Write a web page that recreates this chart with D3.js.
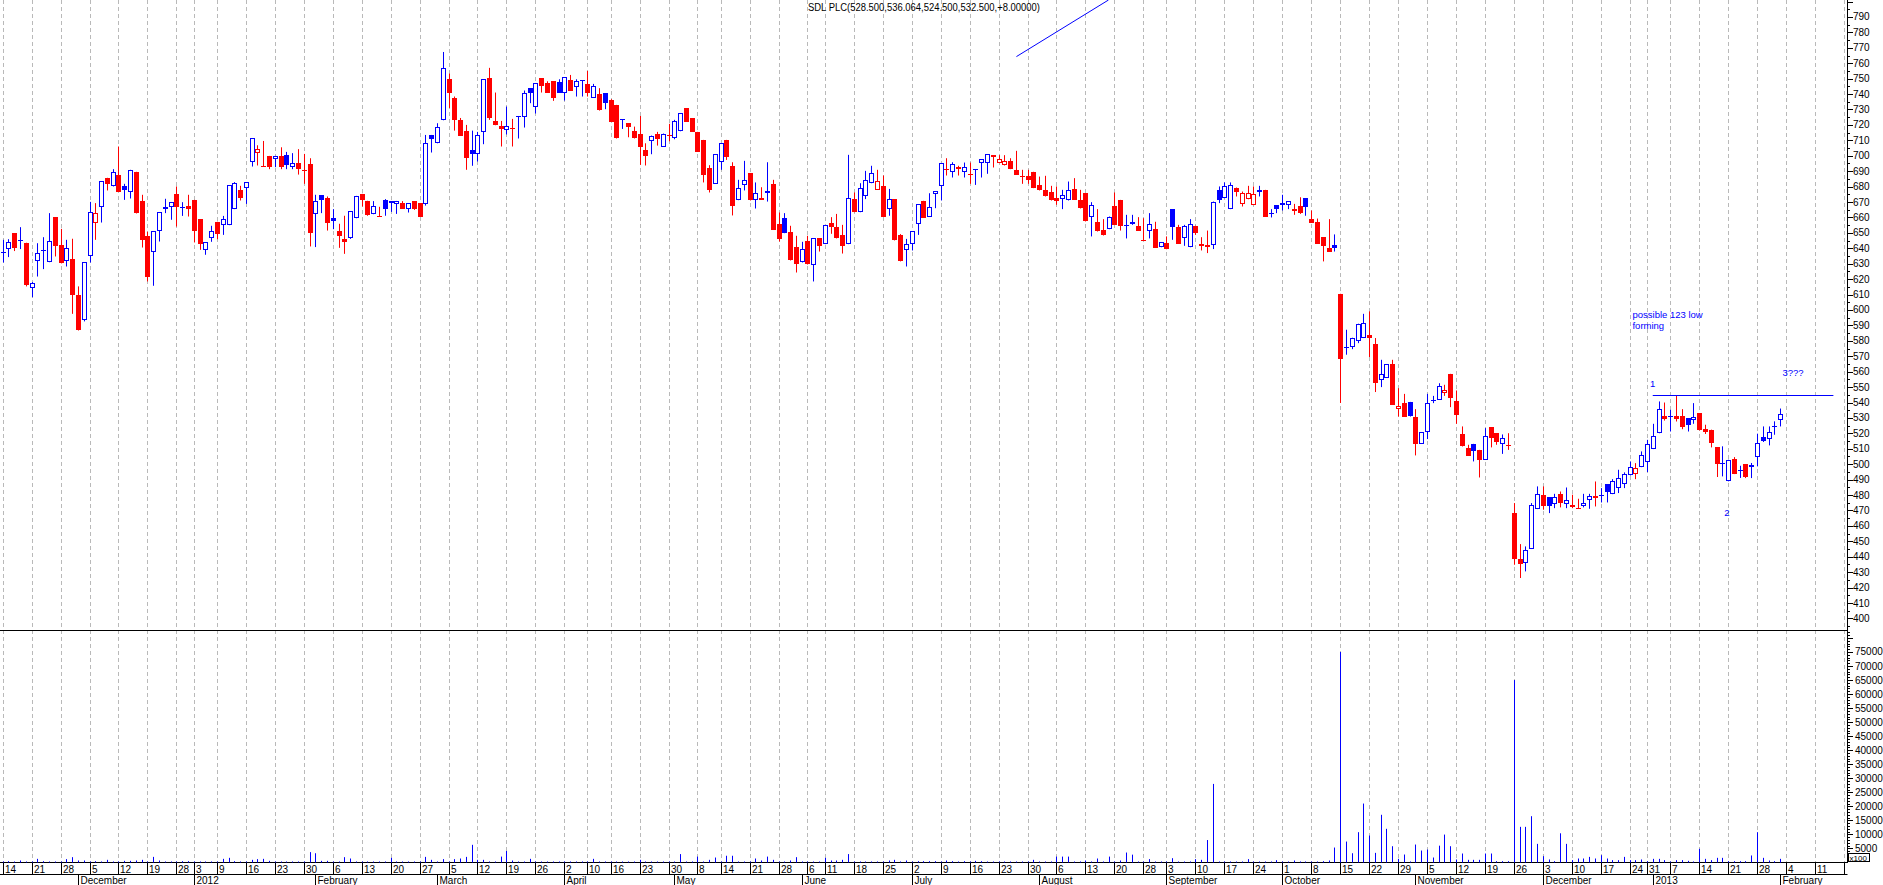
<!DOCTYPE html>
<html><head><meta charset="utf-8">
<script src="https://cdn.jsdelivr.net/npm/d3@7"></script>
<style>html,body{margin:0;padding:0;background:#fff;overflow:hidden}text{font-family:"Liberation Sans",Arial,sans-serif}</style>
</head><body><svg id="c" width="1883" height="885"></svg>
<script>
// ---------- DATA ----------
const openP = [
637.7,639.5,649.8,645.2,643.6,614.2,631.9,638.7,631.0,660.2,
642.3,631.5,633.2,609.8,593.2,635.3,656.7,667.1,685.7,680.1,
687.6,680.5,676.2,689.6,670.8,648.1,637.9,651.5,665.4,666.7,
675.1,666.7,667.5,671.4,658.9,638.6,646.4,657.2,655.0,655.0,
665.4,677.9,678.8,695.8,702.1,693.4,699.9,697.8,699.9,700.4,
692.6,695.2,690.9,694.5,662.3,674.4,672.7,659.5,651.1,645.9,
646.6,659.5,675.3,670.8,662.1,661.0,671.4,669.3,668.6,669.5,
665.4,670.6,669.3,668.4,713.5,708.1,723.0,749.6,737.5,723.3,
716.3,703.8,701.0,715.3,750.5,722.6,719.4,716.6,718.0,725.4,
725.4,743.8,731.3,750.3,747.0,748.3,747.9,740.5,749.2,744.4,
748.6,746.6,737.7,740.1,740.5,736.0,733.0,723.6,721.1,716.1,
714.0,703.8,709.6,714.2,706.0,713.5,711.8,715.9,730.8,724.3,
715.5,710.3,692.2,682.0,695.8,710.3,693.4,671.2,680.9,688.7,
671.2,672.5,675.7,681.8,655.9,659.5,650.7,640.7,630.8,644.8,
629.3,646.6,642.7,656.3,653.7,648.5,642.7,671.9,663.4,674.0,
682.2,677.9,680.1,665.4,671.9,648.7,638.6,642.7,655.9,670.8,
660.6,675.1,680.1,691.5,689.3,692.6,689.3,688.0,691.2,695.6,
695.6,700.4,695.2,693.7,696.7,690.9,687.0,687.0,689.6,681.1,
677.9,676.2,672.7,671.9,671.0,678.3,671.4,675.7,660.2,657.2,
652.0,652.4,667.5,671.4,655.0,657.2,654.6,645.6,651.5,652.6,
640.7,643.3,665.4,653.7,646.4,640.7,654.6,641.2,641.0,642.0,
677.9,672.5,665.4,679.4,668.6,671.8,668.0,677.9,677.9,663.0,
668.0,669.5,668.0,665.4,667.5,672.5,659.1,657.2,647.2,640.1,
642.0,610.5,575.9,575.7,579.6,581.8,583.9,578.1,554.8,555.9,
565.1,535.7,539.8,540.4,530.5,513.2,520.8,541.6,541.7,546.1,
558.6,541.3,519.7,510.6,513.2,509.3,502.9,524.0,520.1,513.2,
512.5,468.3,438.5,435.9,445.0,470.9,480.2,478.7,474.1,480.8,
474.1,472.0,471.6,472.6,476.5,479.5,479.7,487.1,480.6,484.5,
487.1,492.7,493.8,498.1,501.3,509.8,520.1,531.4,531.3,531.4,
531.4,529.9,528.4,533.2,522.8,522.4,510.9,500.6,488.9,503.4,
495.9,500.1,498.2,504.6,517.6,516.3,524.3,528.5];

const highP = [
645.5,645.9,649.8,653.7,643.6,618.1,643.3,647.2,662.8,660.2,
652.6,645.5,646.2,615.3,631.0,670.1,669.3,683.5,685.7,691.3,
706.0,681.8,690.9,689.6,674.7,650.7,651.1,663.4,672.1,669.9,
680.1,669.9,674.7,671.4,658.9,644.0,654.6,657.2,661.0,680.9,
682.9,680.5,682.9,711.4,706.8,709.6,699.9,699.9,705.5,702.5,
701.7,704.3,701.2,698.4,674.7,674.4,673.6,665.4,655.9,661.1,
664.1,674.0,675.3,670.8,670.6,666.9,671.9,670.6,670.7,670.6,
669.3,670.6,669.3,713.5,713.5,721.1,767.3,753.3,738.4,724.5,
720.0,716.3,715.5,749.6,757.0,741.0,722.6,731.9,723.9,725.8,
742.3,743.8,747.0,750.3,748.3,748.3,749.6,750.9,752.4,749.6,
749.0,755.0,746.6,743.8,740.5,736.7,733.0,723.8,721.1,718.9,
725.8,708.1,713.1,715.5,714.4,720.7,723.3,727.6,730.8,724.3,
715.5,710.3,693.9,701.0,708.1,710.3,695.8,684.4,696.7,688.7,
682.7,679.6,695.8,684.4,663.2,662.8,654.6,648.1,644.2,648.1,
646.6,646.6,655.0,660.2,662.3,655.2,700.6,676.2,682.2,690.2,
693.5,690.9,687.2,678.5,671.9,649.2,646.1,650.9,668.6,670.8,
675.7,677.0,695.2,698.4,695.8,693.5,695.6,695.6,691.4,697.6,
701.0,700.4,700.4,700.4,698.4,703.2,690.9,690.9,689.6,686.5,
687.0,680.5,680.1,677.9,683.3,685.5,677.9,675.7,669.9,665.4,
658.9,660.6,676.2,671.4,661.7,661.7,660.2,659.5,662.8,657.2,
644.0,647.7,665.4,655.2,655.2,658.9,654.6,647.2,651.5,670.3,
680.1,682.7,682.7,679.4,676.8,680.5,680.1,680.5,677.9,665.4,
668.0,674.7,670.6,668.8,673.1,672.5,664.5,659.3,647.2,658.9,
649.0,610.5,587.2,582.0,591.1,597.5,599.1,581.8,567.7,564.9,
567.7,549.3,545.6,540.4,535.7,520.8,545.6,544.3,552.5,551.5,
558.6,547.8,524.5,512.6,513.2,509.3,523.4,524.0,520.1,519.3,
520.1,474.8,448.2,446.7,474.8,485.6,485.6,478.7,480.8,482.3,
484.9,480.2,477.6,480.8,480.8,488.8,484.5,487.1,490.3,496.4,
494.7,501.8,500.7,508.3,515.8,526.2,540.7,540.0,535.3,544.3,
535.7,529.9,539.6,533.2,525.6,522.4,510.9,511.6,502.9,504.6,
499.0,500.1,500.8,519.8,524.5,524.5,527.8,536.1];

const lowP = [
630.8,634.3,638.2,639.5,615.3,608.3,621.7,626.5,631.0,634.7,
630.2,628.2,597.5,586.7,592.6,630.8,645.5,656.7,677.5,680.1,
676.8,671.4,672.3,662.6,640.5,618.5,615.7,644.4,662.8,658.5,
654.1,661.0,660.6,643.8,639.0,635.8,644.2,645.9,648.7,655.0,
665.4,671.0,668.8,693.0,693.7,693.2,691.3,692.6,691.3,691.3,
691.3,687.8,681.8,641.2,640.8,662.8,651.5,652.4,640.3,636.4,
646.1,659.5,667.1,661.1,662.1,660.8,661.1,663.6,662.3,665.8,
663.2,664.9,660.6,667.7,702.1,708.1,723.0,731.0,716.3,713.1,
690.9,693.5,696.3,707.5,723.3,719.8,706.0,713.8,706.0,711.2,
718.3,734.1,727.4,741.0,741.0,735.6,741.0,735.8,742.3,738.4,
738.4,738.4,737.7,729.3,730.2,722.2,711.2,717.4,712.0,711.2,
694.1,693.7,701.0,706.6,706.0,709.4,710.7,715.9,722.2,715.7,
702.7,682.7,676.2,682.0,690.9,697.3,661.3,671.2,677.5,671.0,
665.8,671.6,670.3,652.0,644.4,649.8,632.1,624.3,630.8,629.5,
618.5,637.9,642.7,649.4,646.4,636.6,642.7,663.4,663.4,671.9,
682.2,677.9,660.6,661.1,645.1,631.5,628.2,638.6,648.7,659.9,
660.6,666.0,671.0,687.2,685.9,687.2,685.9,681.8,681.1,685.9,
688.3,692.4,695.2,693.7,691.3,687.8,681.8,681.8,679.0,677.5,
673.6,671.0,668.2,665.4,671.0,671.4,665.8,657.4,647.7,650.9,
648.3,652.4,655.2,651.5,646.4,655.2,651.5,645.4,646.4,640.5,
640.7,639.4,645.5,643.1,641.6,640.7,648.7,638.6,636.9,639.5,
669.3,672.5,665.4,673.6,667.1,671.8,668.0,673.6,660.6,660.0,
662.8,664.5,665.4,661.7,662.3,661.1,656.7,643.1,631.5,637.9,
637.9,539.7,571.0,574.6,578.5,581.8,569.5,546.8,550.0,555.9,
538.5,530.9,530.9,530.9,505.7,513.2,516.3,539.6,541.7,544.3,
537.0,526.2,511.5,505.4,501.8,491.4,502.9,510.9,512.6,506.7,
509.3,434.8,426.2,430.5,445.0,470.9,470.5,468.3,471.5,472.0,
471.5,471.5,471.4,472.0,471.1,472.6,475.2,475.2,480.6,481.3,
484.5,492.7,490.3,498.1,494.9,509.8,520.1,528.3,521.2,527.7,
522.7,521.2,526.2,521.9,519.6,510.9,491.7,492.1,488.9,493.6,
491.1,491.0,491.0,498.6,514.4,512.2,519.1,524.5];

const closeP = [
636.9,643.8,639.9,645.4,615.9,617.4,636.9,638.9,644.6,641.8,
630.2,640.1,609.4,586.7,631.0,663.4,662.8,683.5,681.8,689.3,
676.8,677.5,690.9,662.6,645.5,621.1,651.1,663.4,666.9,669.9,
666.5,666.9,665.8,651.5,642.5,644.0,651.1,649.4,658.9,680.9,
682.2,672.3,682.9,711.4,704.5,693.2,693.0,699.9,693.0,694.3,
695.6,691.3,690.0,649.8,670.6,671.0,656.7,658.0,648.1,644.2,
664.1,674.0,671.0,661.7,667.5,660.8,665.8,670.4,670.7,665.8,
669.3,665.8,660.6,708.1,710.7,718.9,756.7,741.0,723.0,713.1,
698.8,701.0,713.3,749.6,724.8,719.8,717.2,719.4,717.8,725.8,
740.5,741.0,747.0,745.5,741.0,737.7,741.0,750.9,742.3,748.7,
748.9,741.0,745.5,729.7,734.5,722.2,711.2,723.8,718.9,711.8,
706.0,700.1,713.1,710.7,714.4,713.3,722.6,727.6,722.2,715.7,
702.7,687.6,677.9,701.0,708.1,699.5,667.7,679.2,684.2,671.0,
675.7,671.6,677.0,652.0,645.9,649.8,632.1,629.7,639.4,629.5,
646.6,641.2,655.0,653.5,646.4,641.8,672.5,663.4,679.0,684.0,
688.7,683.9,660.6,671.9,645.1,631.5,642.7,650.9,668.6,659.9,
666.5,677.0,695.2,691.3,694.5,691.7,692.6,687.8,691.4,697.6,
701.0,699.5,698.0,696.5,691.3,687.8,686.1,684.4,679.0,677.5,
673.6,671.0,670.8,674.7,677.9,671.4,666.2,657.4,668.0,650.9,
648.3,660.6,655.2,654.6,655.3,655.9,651.5,645.4,655.9,640.5,
644.0,639.4,653.5,643.1,654.6,655.9,650.2,642.5,642.3,670.3,
671.4,680.7,681.0,676.2,675.9,675.6,675.3,676.8,660.6,662.1,
665.8,668.0,670.6,663.9,663.2,667.1,656.7,643.1,641.2,637.9,
640.5,568.4,576.1,582.0,591.1,591.4,581.8,552.6,558.5,564.9,
538.5,537.6,530.9,531.2,513.0,520.8,539.6,541.8,550.8,548.2,
542.8,532.0,511.5,505.4,508.3,502.9,518.0,516.7,514.7,516.7,
512.3,438.7,435.5,444.5,473.7,480.6,472.6,473.0,478.7,474.8,
476.9,473.7,471.4,474.8,479.5,477.8,479.9,481.7,488.8,491.0,
493.6,498.1,497.5,506.1,513.2,518.4,535.7,529.2,531.5,529.2,
524.0,525.2,530.6,521.9,520.6,513.7,500.1,500.8,502.9,493.6,
496.1,491.7,499.7,513.7,515.2,520.6,524.5,532.5];

const volume = [
300,470,250,710,300,250,1300,470,360,250,
300,1200,1900,710,710,300,470,300,950,250,
300,590,590,710,950,300,2000,710,250,300,
250,470,470,250,300,360,360,250,1300,1660,
470,300,250,950,1200,1300,590,300,360,360,
360,360,300,3700,3300,590,590,300,250,1900,
1420,360,250,360,360,360,360,1660,360,360,
360,360,250,2000,950,360,1200,360,1200,1420,
2000,6300,950,950,360,250,2100,4100,710,360,
250,1300,360,250,360,250,240,250,360,360,
360,360,1300,360,360,360,360,360,250,300,
950,360,250,300,250,300,250,3000,250,300,
2100,250,950,1770,300,2400,2400,250,300,250,
1420,710,2100,950,250,300,710,1900,250,300,
250,300,1660,710,710,950,3000,360,360,360,
360,360,360,710,950,250,710,250,470,470,
470,470,250,710,470,250,470,250,590,470,
250,250,250,360,250,250,250,250,950,250,
250,360,2100,2100,2100,250,360,710,250,1420,
250,2100,250,710,3550,2800,360,250,1200,250,
250,250,1540,250,250,250,1200,950,8000,28000,
250,360,360,250,250,1200,360,250,250,250,
830,250,250,710,360,360,360,360,470,710,
5330,75000,7460,3300,10800,21000,9600,3430,17000,12000,
5800,1300,2840,360,6400,4260,4620,1780,6000,9950,
5800,1070,3200,950,950,950,3200,3200,470,470,
470,65000,12700,12700,16500,6640,2250,1070,470,10400,
6640,830,1420,1420,2000,1420,2600,1420,830,830,
2000,830,830,1070,470,1300,1300,830,360,830,
830,590,360,4860,1300,830,1660,1660,470,470,
470,470,2500,10800,1660,710,470,1300];

const calendarStart = [2011, 10, 14];   // 14 Nov 2011
const calendarDays = 319;               // trading days on the axis
const holidays = ["2011-12-26","2011-12-27","2012-01-02","2012-04-06","2012-04-09",
  "2012-05-07","2012-06-04","2012-06-05","2012-08-27","2012-12-25","2012-12-26","2013-01-01"];
const monthNames = ["January","February","March","April","May","June","July",
  "August","September","October","November","December"];
const priceLabels = d3.range(400, 791, 10);
const volumeLabels = d3.range(5000, 75001, 5000);
const titleText = "SDL PLC(528.500,536.064,524.500,532.500,+8.00000)";
const notes = [
  {text: "possible 123 low", i: 281.4, p: 594.5, anchor: "start"},
  {text: "forming", i: 281.4, p: 587.4, anchor: "start"},
  {text: "1", i: 284.9, p: 550.1, anchor: "middle"},
  {text: "3???", i: 307.3, p: 556.9, anchor: "start"},
  {text: "2", i: 297.7, p: 466.7, anchor: "middle"}];
const resistance = {i0: 284.9, i1: 316.1, p: 545.2};
const trendLine = {i0: 175.0, p0: 764.3, i1: 190.9, p1: 801.0};

// ---------- CALENDAR ----------
const hol = new Set(holidays);
const dates = [];
let t = Date.UTC(calendarStart[0], calendarStart[1], calendarStart[2]);
while (dates.length < calendarDays) {
  const d = new Date(t);
  const wd = d.getUTCDay();
  if (wd !== 0 && wd !== 6 && !hol.has(d3.utcFormat("%Y-%m-%d")(d))) dates.push(d);
  t += 86400000;
}

// ---------- SCALES ----------
const W = 1883, H = 885;
const axisX = 1847;
const priceTop = 0, priceBottom = 630, volTop = 631, volBottom = 862.5;
const xs = d3.scaleLinear().domain([0, 318.45]).range([3.2, axisX]);
const yP = d3.scaleLinear().domain([392.5, 801]).range([priceBottom, priceTop]);
const yV = d3.scaleLinear().domain([0, 82480]).range([volBottom, volTop]);
const cx = i => Math.floor(xs(i)) + 0.5;

const svg = d3.select("#c");
svg.append("rect").attr("width", W).attr("height", H).attr("fill", "#fff");

// week & month ticks
const weekTicks = [], monthTicks = [];
dates.forEach((d, i) => {
  if (i === 0 || +d3.utcMonday.floor(d) !== +d3.utcMonday.floor(dates[i-1])) weekTicks.push(i);
  if (i > 0 && d.getUTCMonth() !== dates[i-1].getUTCMonth()) monthTicks.push(i);
});

// grid
svg.append("g").selectAll("line").data(weekTicks).join("line")
  .attr("x1", cx).attr("x2", cx).attr("y1", 0).attr("y2", 862)
  .attr("stroke", "#b9b9b9").attr("stroke-width", 1).attr("stroke-dasharray", "4,3");

// panel separators & axes lines
const axes = svg.append("g").attr("stroke", "#000").attr("stroke-width", 1);
axes.append("line").attr("x1", 0).attr("x2", axisX + 0.5).attr("y1", 630.5).attr("y2", 630.5);
axes.append("line").attr("x1", 0).attr("x2", axisX + 0.5).attr("y1", 862.5).attr("y2", 862.5);
axes.append("line").attr("x1", 0).attr("x2", axisX + 0.5).attr("y1", 874.5).attr("y2", 874.5);
axes.append("line").attr("x1", axisX + 0.5).attr("x2", axisX + 0.5).attr("y1", 0).attr("y2", 863);

// volume bars
svg.append("g").selectAll("line").data(volume).join("line")
  .attr("x1", (v, i) => cx(i)).attr("x2", (v, i) => cx(i))
  .attr("y1", yV(0)).attr("y2", v => Math.min(yV(0) - 1, yV(v)))
  .attr("stroke", "#0000ff").attr("stroke-width", 1);

// candles
const BLUE = "#0000ff", RED = "#ff0000";
const cg = svg.append("g");
openP.forEach((o, i) => {
  const c = closeP[i], h = highP[i], l = lowP[i];
  const col = (i === 0 || c >= closeP[i-1]) ? BLUE : RED;
  const x = cx(i);
  const yTop = Math.round(yP(Math.max(o, c))), yBot = Math.round(yP(Math.min(o, c)));
  cg.append("line").attr("x1", x).attr("x2", x).attr("y1", yP(h)).attr("y2", yP(l))
    .attr("stroke", col).attr("stroke-width", 1);
  if (yBot - yTop < 2) {
    cg.append("line").attr("x1", x - 2.5).attr("x2", x + 2.5)
      .attr("y1", yTop + 0.5).attr("y2", yTop + 0.5).attr("stroke", col).attr("stroke-width", 1);
  } else if (c > o) {
    cg.append("rect").attr("x", x - 2).attr("y", yTop + 0.5).attr("width", 4)
      .attr("height", yBot - yTop - 1).attr("fill", "#fff").attr("stroke", col).attr("stroke-width", 1);
  } else {
    cg.append("rect").attr("x", x - 2.5).attr("y", yTop).attr("width", 5)
      .attr("height", yBot - yTop).attr("fill", col);
  }
});

// price axis
const pTicks = d3.range(395, 801, 5);
axes.selectAll(".pt").data(pTicks).join("line")
  .attr("x1", axisX + 0.5).attr("x2", v => axisX + (v % 10 === 0 ? 6 : 3))
  .attr("y1", v => Math.round(yP(v)) + 0.5).attr("y2", v => Math.round(yP(v)) + 0.5);
svg.append("g").selectAll("text").data(priceLabels).join("text")
  .attr("x", axisX + 6).attr("y", v => yP(v) + 3.5)
  .attr("font-size", 10).attr("fill", "#000").text(v => v);

// volume axis
const vTicks = d3.range(1000, 82001, 1000);
axes.selectAll(".vt").data(vTicks).join("line")
  .attr("x1", axisX + 0.5).attr("x2", v => axisX + (v % 5000 === 0 ? 6 : 3))
  .attr("y1", v => Math.round(yV(v)) + 0.5).attr("y2", v => Math.round(yV(v)) + 0.5);
svg.append("g").selectAll("text").data(volumeLabels).join("text")
  .attr("x", axisX + 8).attr("y", v => yV(v) + 3.5)
  .attr("font-size", 10).attr("fill", "#000").text(v => v);
svg.append("rect").attr("x", axisX + 1.5).attr("y", 853.5).attr("width", 21).attr("height", 8)
  .attr("fill", "#fff").attr("stroke", "#000");
svg.append("text").attr("x", axisX + 2.5).attr("y", 860.5).attr("font-size", 8).text("x100");

// time axis
axes.selectAll(".wt").data(weekTicks).join("line")
  .attr("x1", cx).attr("x2", cx).attr("y1", 862).attr("y2", 874);
svg.append("g").selectAll("text").data(weekTicks.filter(i => xs(i) < axisX - 12)).join("text")
  .attr("x", i => cx(i) + 1.5).attr("y", 872.5).attr("font-size", 10)
  .text(i => dates[i].getUTCDate());
axes.selectAll(".mt").data(monthTicks).join("line")
  .attr("x1", cx).attr("x2", cx).attr("y1", 874).attr("y2", 885);
svg.append("g").selectAll("text").data(monthTicks).join("text")
  .attr("x", i => cx(i) + 2).attr("y", 884).attr("font-size", 10)
  .text(i => dates[i].getUTCMonth() === 0 ? dates[i].getUTCFullYear() : monthNames[dates[i].getUTCMonth()]);

// annotations
svg.append("line").attr("x1", xs(trendLine.i0)).attr("y1", yP(trendLine.p0))
  .attr("x2", xs(trendLine.i1)).attr("y2", yP(trendLine.p1)).attr("stroke", BLUE).attr("stroke-width", 1);
svg.append("line").attr("x1", xs(resistance.i0)).attr("x2", xs(resistance.i1))
  .attr("y1", Math.round(yP(resistance.p)) + 0.5).attr("y2", Math.round(yP(resistance.p)) + 0.5)
  .attr("stroke", BLUE).attr("stroke-width", 1);
svg.append("g").selectAll("text").data(notes).join("text")
  .attr("x", d => xs(d.i)).attr("y", d => yP(d.p)).attr("text-anchor", d => d.anchor)
  .attr("font-size", 9.5).attr("fill", BLUE).text(d => d.text);

svg.append("text").attr("x", 808).attr("y", 10.5).attr("font-size", 10)
  .attr("textLength", 232).attr("lengthAdjust", "spacingAndGlyphs").text(titleText);
</script>
</body></html>
